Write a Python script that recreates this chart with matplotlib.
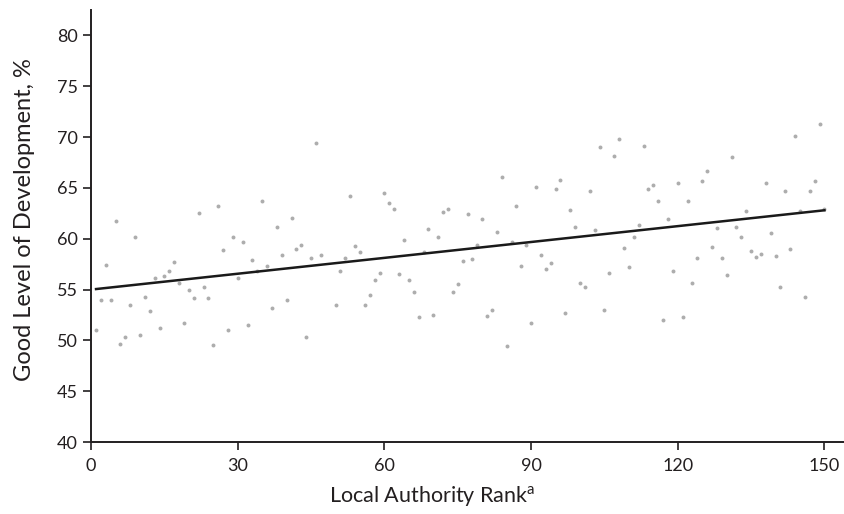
import matplotlib
matplotlib.use("Agg")
import matplotlib.pyplot as plt

# Local authority rank vs % reaching a good level of development
rank = list(range(1, 48)) + list(range(50, 151))
gld_pct = [
    51.0, 54.0, 57.4, 54.0, 61.7, 49.6, 50.3, 53.5, 60.2, 50.5,
    54.3, 52.9, 56.1, 51.2, 56.3, 56.8, 57.7, 55.6, 51.7, 55.0,
    54.2, 62.5, 55.3, 54.2, 49.5, 63.2, 58.9, 51.0, 60.2, 56.1,
    59.7, 51.5, 57.9, 56.8, 63.7, 57.3, 53.2, 61.2, 58.4, 54.0,
    62.0, 59.0, 59.4, 50.3, 58.1, 69.4, 58.4,
    53.5, 56.8, 58.1, 64.2, 59.3, 58.7, 53.5, 54.5, 55.9, 56.6,
    64.5, 63.5, 62.9, 56.5, 59.9, 55.9, 54.8, 52.3, 58.7, 61.0,
    52.5, 60.2, 62.6, 62.9, 54.8, 55.5, 57.8, 62.4, 58.0, 59.4,
    61.9, 52.4, 53.0, 60.7, 66.1, 49.4, 59.7, 63.2, 57.3, 59.4,
    51.7, 65.1, 58.4, 57.0, 57.6, 64.9, 65.8, 52.7, 62.8, 61.2,
    55.6, 55.3, 64.7, 60.9, 69.0, 53.0, 56.6, 68.1, 69.8, 59.1,
    57.2, 60.2, 61.4, 69.1, 64.9, 65.3, 63.7, 52.0, 61.9, 56.8,
    65.5, 52.3, 63.7, 55.6, 58.1, 65.7, 66.7, 59.2, 61.1, 58.1,
    56.4, 68.0, 61.2, 60.2, 62.7, 58.8, 58.2, 58.5, 65.5, 60.6,
    58.3, 55.3, 64.7, 59.0, 70.1, 62.7, 54.3, 64.7, 65.7, 71.3,
    62.9,
]

# fitted trend line as drawn in the source
trend_x = [1, 150]
trend_y = [55.05, 62.8]

x_ticks = [0, 30, 60, 90, 120, 150]
y_ticks = [40, 45, 50, 55, 60, 65, 70, 75, 80]

plt.rcParams["font.family"] = ["Lato", "DejaVu Sans"]
plt.rcParams["mathtext.fontset"] = "custom"
plt.rcParams["mathtext.rm"] = "Lato"

fig = plt.figure(figsize=(8.44, 5.14), dpi=100)
ax = fig.add_axes([0.108, 0.14, 0.892, 0.8405])

ax.scatter(rank, gld_pct, s=8, color="#adadad", linewidths=0, zorder=2)
ax.plot(trend_x, trend_y, color="#1a1a1a", lw=1.8, zorder=3)

ax.set_xlim(0, 154)
ax.set_ylim(40, 82.5)
ax.set_xticks(x_ticks)
ax.set_yticks(y_ticks)

for side in ["top", "right"]:
    ax.spines[side].set_visible(False)
for side in ["left", "bottom"]:
    ax.spines[side].set_color("#231f20")
    ax.spines[side].set_linewidth(1.4)
ax.tick_params(direction="out", length=5.5, width=1.2, color="#231f20",
               labelsize=13, labelcolor="#231f20", pad=4)
ax.tick_params(axis="x", pad=6)

ax.set_xlabel(r"Local Authority Rank$^{\mathrm{a}}$", fontsize=15.5, color="#231f20")
ax.xaxis.set_label_coords(0.453, -0.098)
ax.set_ylabel("Good Level of Development, %", fontsize=17, color="#231f20")
ax.yaxis.set_label_coords(-0.075, 0.514)

fig.savefig("out.png", dpi=100)
